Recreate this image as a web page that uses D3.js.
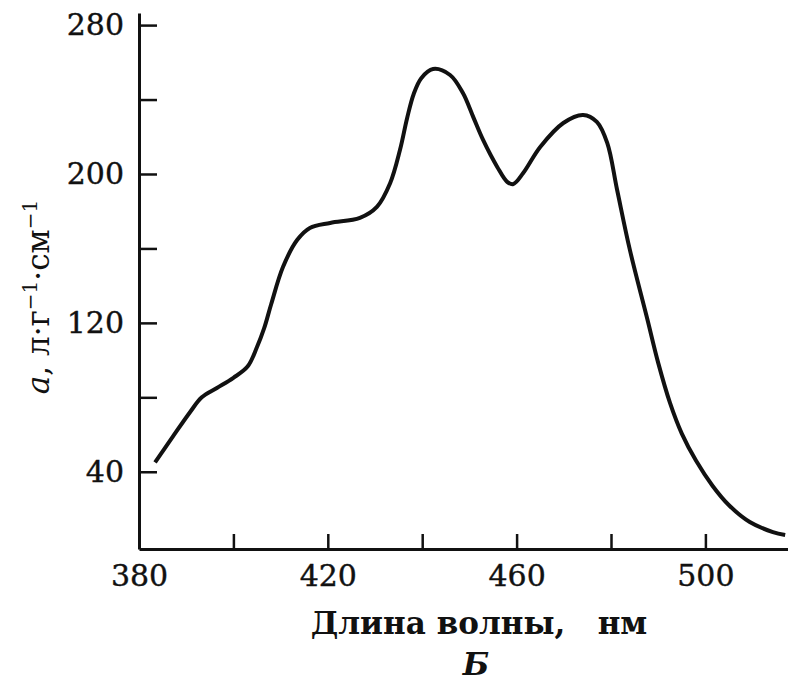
<!DOCTYPE html>
<html>
<head>
<meta charset="utf-8">
<script src="https://cdn.jsdelivr.net/npm/d3@7"></script>
<style>
  body { margin: 0; background: #fff; }
  svg { display: block; }
  .axis path, .axis line { stroke: #111; }
  .axis text { font-family: 'DejaVu Serif', serif; font-size: 30px; fill: #111; stroke: #111; stroke-width: 0.4px; }
  .axis-title { font-family: 'DejaVu Serif', serif; fill: #111; }
</style>
</head>
<body>
<div id="chart"></div>
<script>
// absorption spectrum
const wavelengths = [383.4, 387.2, 390.8, 393.3, 396.5, 400, 403, 405, 406.5, 408, 410.5, 413.5, 416.2,
  420.5, 426.8, 430.4, 433.2, 435.3, 436.8, 438.2, 439.8, 442.3, 445.9, 448.6, 450.8, 452.9, 455.9, 458,
  459.3, 461.4, 465, 469.9, 474.1, 477, 479.2, 481.3, 484, 487.6, 490, 492.5, 495, 498, 501.5, 505, 509.4,
  514.3, 516.9];
const absorbance = [45, 59, 72, 80, 85, 90.5, 96.5, 107, 117, 130, 150, 164.5, 171,
  173.7, 176.4, 182.3, 195, 213, 230, 243, 251.5, 256.4, 253.2, 243.6, 230.7, 218.3, 203.8, 195.8,
  194.6, 200.5, 214.5, 227.4, 231.7, 228, 216.7, 191.4, 159.2, 123, 98.5, 77, 60.5, 46, 32.5, 22, 13,
  7.6, 6];

const xTicks = [380, 400, 420, 440, 460, 480, 500];
const xLabels = [380, 420, 460, 500];
const yTicks = [40, 80, 120, 160, 200, 240, 280];
const yLabels = [40, 120, 200, 280];

class SpectrumChart {

  constructor(_config) {
    this.config = {
      parentElement: _config.parentElement,
      containerWidth: _config.containerWidth || 788,
      containerHeight: _config.containerHeight || 682,
      margin: { top: 13, right: 0, bottom: 133, left: 139 }
    };
    this.initVis();
  }

  initVis() {
    let vis = this;

    vis.width = vis.config.containerWidth - vis.config.margin.left - vis.config.margin.right;
    vis.height = vis.config.containerHeight - vis.config.margin.top - vis.config.margin.bottom;

    vis.xScale = d3.scaleLinear()
      .domain([380, 517.5])
      .range([0, vis.width]);

    vis.yScale = d3.scaleLinear()
      .domain([-1.5, 286.5])
      .range([vis.height, 0]);

    vis.svg = d3.select(vis.config.parentElement).append('svg')
      .attr('width', vis.config.containerWidth)
      .attr('height', vis.config.containerHeight);

    vis.chart = vis.svg.append('g')
      .attr('transform', `translate(${vis.config.margin.left},${vis.config.margin.top})`);

    // ticks point inward, labels only on every other tick
    vis.xAxis = d3.axisBottom(vis.xScale)
      .tickValues(xTicks)
      .tickSize(-15)
      .tickSizeOuter(0)
      .tickPadding(16)
      .tickFormat(d => xLabels.includes(d) ? d : '');

    vis.yAxis = d3.axisLeft(vis.yScale)
      .tickValues(yTicks)
      .tickSize(-18)
      .tickSizeOuter(0)
      .tickPadding(15)
      .tickFormat(d => yLabels.includes(d) ? d : '');

    vis.xAxisG = vis.chart.append('g')
      .attr('class', 'axis x-axis')
      .attr('transform', `translate(0,${vis.height})`);

    vis.yAxisG = vis.chart.append('g')
      .attr('class', 'axis y-axis');

    // axis titles
    vis.svg.append('text')
      .attr('class', 'axis-title')
      .attr('x', 479)
      .attr('y', 634)
      .attr('text-anchor', 'middle')
      .attr('font-size', 31)
      .attr('font-weight', 700)
      .attr('xml:space', 'preserve')
      .text('Длина волны,   нм');

    vis.svg.append('text')
      .attr('class', 'axis-title')
      .attr('x', 476)
      .attr('y', 675)
      .attr('text-anchor', 'middle')
      .attr('font-size', 31)
      .attr('font-weight', 700)
      .attr('font-style', 'italic')
      .text('Б');

    const yTitle = vis.svg.append('text')
      .attr('class', 'axis-title')
      .attr('transform', 'translate(49,297) rotate(-90)')
      .attr('text-anchor', 'middle')
      .attr('font-size', 31);
    yTitle.append('tspan').attr('font-style', 'italic').text('a');
    yTitle.append('tspan').text(',  л·г');
    yTitle.append('tspan').attr('font-size', 20).attr('dy', -12).text('−1');
    yTitle.append('tspan').attr('dy', 12).text('·см');
    yTitle.append('tspan').attr('font-size', 20).attr('dy', -12).text('−1');

    vis.renderVis();
  }

  renderVis() {
    let vis = this;

    vis.line = d3.line()
      .x(d => vis.xScale(d[0]))
      .y(d => vis.yScale(d[1]))
      .curve(d3.curveCatmullRom.alpha(0.5));

    vis.chart.selectAll('.spectrum')
      .data([d3.zip(wavelengths, absorbance)])
      .join('path')
        .attr('class', 'spectrum')
        .attr('d', vis.line)
        .attr('fill', 'none')
        .attr('stroke', '#111')
        .attr('stroke-width', 4)
        .attr('stroke-linejoin', 'round');

    vis.xAxisG.call(vis.xAxis);
    vis.yAxisG.call(vis.yAxis);

    vis.chart.selectAll('.axis path.domain').attr('stroke-width', 3);
    vis.chart.selectAll('.axis .tick line').attr('stroke-width', 2.5);
  }
}

new SpectrumChart({ parentElement: '#chart' });
</script>
</body>
</html>
